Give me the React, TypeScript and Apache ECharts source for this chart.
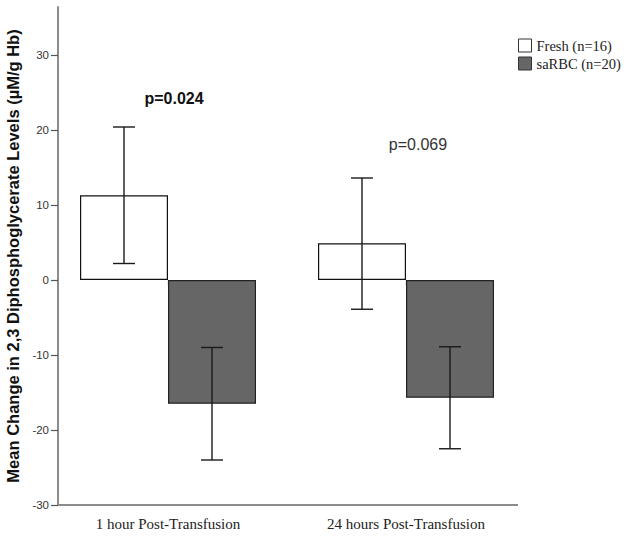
import React, { useEffect, useRef } from "react";
import * as echarts from "echarts";

const categories = ["1 hour Post-Transfusion", "24 hours Post-Transfusion"];
const seriesNames = ["Fresh (n=16)", "saRBC (n=20)"];
const freshMeans = [11.3, 4.9];
const freshLow = [2.2, -3.9];
const freshHigh = [20.4, 13.6];
const saMeans = [-16.5, -15.7];
const saLow = [-24.0, -22.5];
const saHigh = [-9.0, -8.9];
const yTicks = [-30, -20, -10, 0, 10, 20, 30];
const pLabels = ["p=0.024", "p=0.069"];

const BAR_W = 88;
const SERIF = "'Liberation Serif', 'DejaVu Serif', serif";
const SANS = "'Liberation Sans', Arial, sans-serif";

function errSeries(name: string, lows: number[], highs: number[], offset: number) {
  return {
    type: "custom",
    name: name + " err",
    z: 5,
    silent: true,
    encode: { x: 0, y: [1, 2] },
    data: lows.map((l, i) => [i, l, highs[i]]),
    renderItem: (params: any, api: any) => {
      const idx = api.value(0);
      const lo = api.coord([idx, api.value(1)]);
      const hi = api.coord([idx, api.value(2)]);
      const x = lo[0] + offset;
      const cap = 11;
      const style = { stroke: "#1a1a1a", lineWidth: 1.4 };
      return {
        type: "group",
        children: [
          { type: "line", shape: { x1: x, y1: lo[1], x2: x, y2: hi[1] }, style },
          { type: "line", shape: { x1: x - cap, y1: lo[1], x2: x + cap, y2: lo[1] }, style },
          { type: "line", shape: { x1: x - cap, y1: hi[1], x2: x + cap, y2: hi[1] }, style },
        ],
      };
    },
  };
}

export default function App() {
  const ref = useRef<HTMLDivElement>(null);
  useEffect(() => {
    if (!ref.current) return;
    const chart = echarts.init(ref.current, null, { renderer: "svg" });
    const option: any = {
      animation: false,
      backgroundColor: "#ffffff",
      grid: { left: 49, top: 7, width: 476, height: 498, containLabel: false, outerBoundsMode: "none" },
      legend: {
        orient: "vertical",
        left: 518,
        top: 38,
        padding: 0,
        itemWidth: 13,
        itemHeight: 13,
        itemGap: 3,
        icon: "rect",
        textStyle: { fontFamily: SERIF, fontSize: 14.5, color: "#222" },
        data: [
          { name: seriesNames[0], itemStyle: { color: "#ffffff", borderColor: "#333", borderWidth: 1 } },
          { name: seriesNames[1], itemStyle: { color: "#666666", borderColor: "#333", borderWidth: 1 } },
        ],
      },
      xAxis: {
        type: "category",
        data: categories,
        axisLine: { show: false },
        axisTick: { show: true, alignWithLabel: true, length: 6, lineStyle: { color: "#222", width: 1.2 } },
        axisLabel: { fontFamily: SERIF, fontSize: 15, color: "#222", margin: 11 },
        splitLine: { show: false },
      },
      yAxis: {
        type: "value",
        min: -30,
        max: 36.4,
        interval: 10,
        offset: -9,
        name: "Mean Change in 2,3 Diphosphoglycerate Levels (µM/g Hb)",
        nameLocation: "middle",
        nameGap: 31,
        nameTextStyle: { fontFamily: SANS, fontWeight: "bold", fontSize: 16.5, color: "#111" },
        axisLine: { show: true, lineStyle: { color: "#8c8c8c", width: 2 } },
        axisTick: { show: true, length: 7, customValues: yTicks, lineStyle: { color: "#555", width: 1.2 } },
        axisLabel: { customValues: yTicks, fontFamily: SANS, fontSize: 11.5, color: "#333", margin: 9 },
        splitLine: { show: false },
      },
      series: [
        {
          type: "bar",
          name: seriesNames[0],
          data: freshMeans,
          barWidth: BAR_W,
          barGap: "0%",
          itemStyle: { color: "#ffffff", borderColor: "#111", borderWidth: 1.2 },
        },
        {
          type: "bar",
          name: seriesNames[1],
          data: saMeans,
          barWidth: BAR_W,
          barGap: "0%",
          itemStyle: { color: "#666666", borderColor: "#222", borderWidth: 1.2 },
        },
        errSeries(seriesNames[0], freshLow, freshHigh, -BAR_W / 2),
        errSeries(seriesNames[1], saLow, saHigh, BAR_W / 2),
      ],
      graphic: [
        { type: "line", shape: { x1: 58, y1: 505, x2: 518, y2: 505 }, style: { stroke: "#8c8c8c", lineWidth: 2 }, z: 10 },
        {
          type: "text",
          x: 174,
          y: 98,
          style: { text: pLabels[0], fontFamily: SANS, fontWeight: "bold", fontSize: 16, fill: "#111", align: "center", verticalAlign: "middle" },
        },
        {
          type: "text",
          x: 418,
          y: 144,
          style: { text: pLabels[1], fontFamily: SANS, fontSize: 16, fill: "#333", align: "center", verticalAlign: "middle" },
        },
      ],
    };
    chart.setOption(option);
    return () => chart.dispose();
  }, []);
  return <div ref={ref} style={{ position: "absolute", left: 0, top: 0, width: 624, height: 536 }} />;
}
